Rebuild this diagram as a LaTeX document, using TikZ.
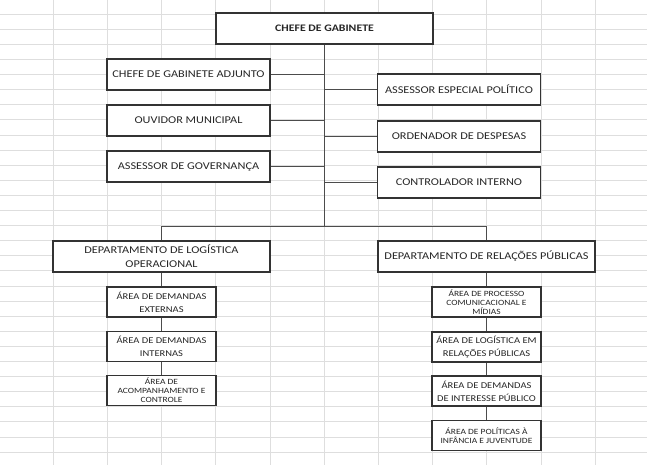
\documentclass[tikz,border=0pt]{standalone}
\usepackage{fontspec}
\setmainfont{Carlito}[FakeStretch=1.18]
\tikzset{
  cargo/.style={draw=black!80, line width=1.1pt, fill=white, text=black!85,
    align=center, inner sep=1pt, minimum width=163pt, minimum height=31pt,
    font=\fontsize{10.4}{14}\selectfont},
  topo/.style={cargo, minimum width=217pt, font=\bfseries\fontsize{10}{12}\selectfont},
  depto/.style={cargo, minimum width=217pt},
  area/.style={cargo, minimum width=109pt, minimum height=30pt,
    font=\fontsize{8.9}{13}\selectfont},
  areap/.style={area, font=\fontsize{8}{9}\selectfont},
  liga/.style={draw=black!70, line width=0.8pt},
  grade/.style={draw=black!13, line width=0.5pt}
}
\begin{document}
\begin{tikzpicture}[x=1pt,y=-1pt]
      \useasboundingbox (0,0) rectangle (647,465);
      % planilha ao fundo
      \foreach \i in {0,...,10}
        \draw[grade] (53+54.2*\i,0) -- (53+54.2*\i,465);
      \foreach \j in {0,...,29}
        \draw[grade] (0,14+15.1*\j) -- (647,14+15.1*\j);
      \draw
        (324.5,28.5) node[topo] (chefe){CHEFE DE GABINETE}
        (188.5,74.5) node[cargo] (adjunto){CHEFE DE GABINETE ADJUNTO}
        (188.5,120.5) node[cargo] (ouvidor){OUVIDOR MUNICIPAL}
        (188.5,166.5) node[cargo] (governanca){ASSESSOR DE GOVERNANÇA}
        (459,89.5) node[cargo] (politico){ASSESSOR ESPECIAL POLÍTICO}
        (459,136.5) node[cargo] (ordenador){ORDENADOR DE DESPESAS}
        (459,182.5) node[cargo] (controlador){CONTROLADOR INTERNO}
        (161.5,256.5) node[depto] (logistica){DEPARTAMENTO DE LOGÍSTICA\\OPERACIONAL}
        (486.5,256.5) node[depto] (relacoes){DEPARTAMENTO DE RELAÇÕES PÚBLICAS}
        (161.5,302) node[area] (externas){ÁREA DE DEMANDAS\\EXTERNAS}
        (161.5,346.5) node[area] (internas){ÁREA DE DEMANDAS\\INTERNAS}
        (161.5,390.5) node[areap] (acompanhamento){ÁREA DE\\ACOMPANHAMENTO E\\CONTROLE}
        (486.5,302) node[areap] (processo){ÁREA DE PROCESSO\\COMUNICACIONAL E\\MÍDIAS}
        (486.5,347) node[area] (logrp){ÁREA DE LOGÍSTICA EM\\RELAÇÕES PÚBLICAS}
        (486.5,391) node[area] (interesse){ÁREA DE DEMANDAS\\DE INTERESSE PÚBLICO}
        (486.5,435.5) node[areap] (infancia){ÁREA DE POLÍTICAS À\\INFÂNCIA E JUVENTUDE};
      \coordinate (hub) at (324.5,226);
      \begin{scope}[liga]
        \draw (chefe) to (hub);
        \draw (adjunto.east) to (adjunto.east -| hub);
        \draw (ouvidor.east) to (ouvidor.east -| hub);
        \draw (governanca.east) to (governanca.east -| hub);
        \draw (politico.west) to (politico.west -| hub);
        \draw (ordenador.west) to (ordenador.west -| hub);
        \draw (controlador.west) to (controlador.west -| hub);
        \draw (logistica.north) |- (hub);
        \draw (hub) -| (relacoes.north);
        \draw (logistica) to (externas);
        \draw (externas) to (internas);
        \draw (internas) to (acompanhamento);
        \draw (relacoes) to (processo);
        \draw (processo) to (logrp);
        \draw (logrp) to (interesse);
        \draw (interesse) to (infancia);
      \end{scope}
    \end{tikzpicture}
\end{document}
